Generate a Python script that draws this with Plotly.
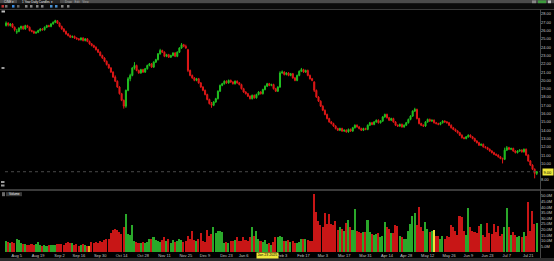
import plotly.graph_objects as go
import pandas as pd

# ---------------- data ----------------
holidays = ["2024-09-02", "2024-11-28", "2024-12-25", "2025-01-01", "2025-01-09",
            "2025-01-20", "2025-02-17", "2025-04-18", "2025-05-26", "2025-06-19", "2025-07-04"]
trading_days = pd.bdate_range("2024-07-29", "2025-07-25", freq="C", holidays=holidays)
dates = [d.strftime("%Y-%m-%d") for d in trading_days]

opens = [
    26.6, 26.9, 26.6, 26.8, 26.4,  25.8, 25.9, 26.3, 26.5, 26.2,  26.6, 26.4, 26.0, 25.9, 25.7,
    25.8, 26.0, 26.2, 26.1, 26.4,  26.6, 26.5, 26.8, 27.0, 27.2,  26.9, 26.5, 26.2, 25.9,
    25.6, 25.4, 25.2, 25.3, 25.1,  25.0, 24.9, 25.1, 24.8, 25.0,  24.7, 24.4, 24.2, 24.0, 23.7,
    23.4, 23.0, 22.7, 22.3, 21.9,  21.5, 21.0, 20.4, 19.9, 19.2,  18.4, 17.6, 16.9, 18.8, 20.2,
    20.6, 21.5, 21.8, 21.2, 20.9,  21.3, 21.0, 21.4, 21.8, 22.0,  21.6, 22.2, 22.5, 23.2, 23.6,
    23.4, 22.9, 23.1, 22.8, 23.0,  23.3, 22.9, 23.4, 23.9, 24.3,  24.1, 23.7, 21.2, 20.6,
    20.3, 20.0, 20.2, 19.7, 19.2,  18.8, 18.3, 17.7, 17.2, 17.0,  17.4, 17.8, 18.7, 19.4, 19.6,
    19.9, 19.7, 20.0, 19.8,  19.6, 19.9, 19.7, 19.5,  19.0, 18.6, 18.4, 18.1,
    17.8, 18.2, 17.9, 18.3, 18.6,  18.4, 18.9, 19.3, 19.6,
    19.4, 19.5, 19.0, 18.7, 19.2,  20.9, 21.0, 20.7, 20.9, 20.6,  20.8, 20.3, 20.0, 20.6, 21.1,
    21.3, 21.0, 21.2, 20.6,
    20.2, 19.8, 18.8, 18.0, 17.5,  16.9, 16.4, 15.9, 15.4, 15.0,  14.8, 14.5, 14.2, 14.0, 14.2,
    13.9, 14.0, 13.8, 14.1, 13.9,  14.3, 14.6, 14.4, 14.2, 14.0,  14.2, 14.1, 14.6, 14.9, 14.7,
    15.0, 15.2, 14.9, 15.1, 15.6,  15.9, 15.5, 15.2, 15.4,
    15.0, 14.6, 14.5, 14.7, 14.4,  14.6, 14.9, 15.3, 15.7, 16.3,  16.5, 15.4, 14.8, 14.6, 14.5,
    15.0, 15.3, 15.1, 15.2, 14.9,  14.8, 14.7, 14.9, 15.1, 15.0,  14.9, 14.6, 14.3, 14.1,
    13.9, 13.7, 13.4, 13.1, 13.0,  13.2, 13.4, 13.2, 13.0, 12.7,  12.5, 12.2, 12.3, 12.0,
    11.9, 11.7, 11.5, 11.3, 11.1,  11.0, 10.8, 10.6, 10.5,
    11.6, 11.9, 11.7, 11.8, 11.5,  11.3, 11.5, 11.6, 11.4, 11.7,  11.0, 10.3, 9.8, 9.3, 8.8,
]
highs = [
    27.1, 27.0, 26.9, 26.9, 26.5,  26.2, 26.4, 26.6, 26.6, 26.7,  26.7, 26.5, 26.1, 26.0, 25.9,
    26.1, 26.3, 26.3, 26.5, 26.7,  26.7, 26.9, 27.1, 27.3, 27.2,  27.0, 26.6, 26.3, 26.0,
    25.7, 25.5, 25.4, 25.4, 25.2,  25.1, 25.2, 25.2, 25.1, 25.1,  24.8, 24.5, 24.3, 24.1, 23.8,
    23.5, 23.1, 22.8, 22.4, 22.0,  21.6, 21.1, 20.6, 20.0, 19.3,  18.5, 17.7, 18.9, 20.4, 20.8,
    21.6, 22.2, 21.9, 21.3, 21.4,  21.4, 21.5, 21.9, 22.1, 22.1,  22.3, 22.6, 23.3, 23.8, 23.7,
    23.5, 23.2, 23.2, 23.1, 23.4,  23.4, 23.5, 24.0, 24.5, 24.4,  24.3, 23.8, 21.3, 20.7,
    20.4, 20.3, 20.3, 19.8, 19.3,  18.9, 18.4, 17.8, 17.4, 17.5,  17.9, 18.8, 19.5, 19.7, 20.0,
    20.0, 20.1, 20.1, 19.9,  20.0, 20.0, 19.8, 19.6,  19.1, 18.7, 18.5, 18.2,
    18.3, 18.3, 18.4, 18.7, 18.7,  19.0, 19.4, 19.7, 19.7,
    19.6, 19.6, 19.1, 19.3, 21.1,  21.2, 21.1, 21.0, 21.0, 20.9,  20.9, 20.4, 20.7, 21.2, 21.5,
    21.4, 21.3, 21.3, 20.7,
    20.3, 19.9, 18.9, 18.1, 17.6,  17.0, 16.5, 16.0, 15.5, 15.1,  14.9, 14.6, 14.3, 14.3, 14.3,
    14.1, 14.1, 14.2, 14.2, 14.4,  14.7, 14.7, 14.5, 14.3, 14.3,  14.3, 14.7, 15.0, 15.0, 15.1,
    15.3, 15.3, 15.2, 15.7, 16.0,  16.0, 15.6, 15.5, 15.5,
    15.1, 14.7, 14.8, 14.8, 14.7,  15.0, 15.4, 15.8, 16.4, 16.7,  16.6, 15.5, 14.9, 14.7, 15.1,
    15.4, 15.4, 15.3, 15.3, 15.0,  14.9, 15.0, 15.2, 15.2, 15.1,  15.0, 14.7, 14.4, 14.2,
    14.0, 13.8, 13.5, 13.2, 13.3,  13.5, 13.5, 13.3, 13.1, 12.8,  12.6, 12.4, 12.4, 12.1,
    12.0, 11.8, 11.6, 11.4, 11.2,  11.1, 10.9, 10.7, 11.9,
    12.1, 12.0, 11.9, 11.9, 11.6,  11.6, 11.7, 11.7, 11.8, 11.8,  11.1, 10.4, 9.9, 9.4, 9.1,
]
lows = [
    26.5, 26.5, 26.5, 26.3, 25.9,  25.6, 25.8, 26.1, 26.1, 26.1,  26.3, 25.9, 25.8, 25.6, 25.6,
    25.7, 25.9, 26.0, 26.0, 26.3,  26.4, 26.4, 26.7, 26.9, 26.8,  26.4, 26.1, 25.8, 25.5,
    25.3, 25.1, 25.1, 25.0, 24.9,  24.8, 24.8, 24.7, 24.7, 24.6,  24.3, 24.1, 23.9, 23.6, 23.3,
    22.9, 22.6, 22.2, 21.8, 21.4,  20.9, 20.3, 19.8, 19.1, 18.3,  17.5, 16.6, 16.7, 18.7, 19.9,
    20.5, 21.3, 21.1, 20.8, 20.8,  20.9, 20.9, 21.3, 21.7, 21.5,  21.5, 22.1, 22.4, 23.1, 23.3,
    22.8, 22.8, 22.7, 22.7, 22.9,  22.8, 22.8, 23.3, 23.8, 24.0,  23.8, 21.0, 20.5, 20.2,
    19.9, 19.9, 19.6, 19.1, 18.7,  18.2, 17.6, 17.1, 16.7, 16.9,  17.3, 17.7, 18.6, 19.3, 19.5,
    19.6, 19.6, 19.7, 19.5,  19.5, 19.6, 19.4, 18.9,  18.5, 18.3, 18.0, 17.7,
    17.7, 17.8, 17.8, 18.2, 18.3,  18.3, 18.8, 19.2, 19.3,
    19.3, 18.9, 18.6, 18.6, 19.1,  20.8, 20.6, 20.6, 20.5, 20.5,  20.2, 19.9, 19.9, 20.5, 21.0,
    20.9, 20.9, 20.5, 20.1,
    19.9, 18.6, 17.9, 17.4, 16.8,  16.3, 15.8, 15.3, 14.9, 14.7,  14.4, 14.1, 13.9, 13.9, 13.8,
    13.8, 13.7, 13.7, 13.8, 13.8,  14.2, 14.3, 14.1, 13.9, 13.9,  14.0, 14.0, 14.5, 14.6, 14.6,
    14.9, 14.8, 14.8, 15.0, 15.5,  15.4, 15.1, 15.1, 14.9,
    14.5, 14.4, 14.4, 14.3, 14.3,  14.5, 14.8, 15.2, 15.6, 16.2,  15.3, 14.7, 14.5, 14.4, 14.4,
    14.9, 15.0, 15.0, 14.8, 14.7,  14.6, 14.6, 14.8, 14.9, 14.8,  14.5, 14.2, 14.0, 13.8,
    13.6, 13.3, 13.0, 12.9, 12.9,  13.1, 13.1, 12.9, 12.6, 12.4,  12.1, 12.1, 11.9, 11.8,
    11.6, 11.4, 11.2, 11.0, 10.9,  10.7, 10.5, 10.0, 10.4,
    11.5, 11.6, 11.6, 11.4, 11.2,  11.2, 11.4, 11.3, 11.3, 10.9,  10.2, 9.7, 9.2, 8.2, 8.6,
]
closes = [
    26.9, 26.7, 26.8, 26.4, 26.1,  25.9, 26.3, 26.5, 26.2, 26.6,  26.4, 26.0, 25.9, 25.7, 25.8,
    26.0, 26.2, 26.1, 26.4, 26.6,  26.5, 26.8, 27.0, 27.2, 26.9,  26.5, 26.2, 25.9, 25.6,
    25.4, 25.2, 25.3, 25.1, 25.0,  24.9, 25.1, 24.8, 25.0, 24.7,  24.4, 24.2, 24.0, 23.7, 23.4,
    23.0, 22.7, 22.3, 21.9, 21.5,  21.0, 20.4, 19.9, 19.2, 18.4,  17.6, 16.9, 18.8, 20.2, 20.6,
    21.5, 21.8, 21.2, 20.9, 21.3,  21.0, 21.4, 21.8, 22.0, 21.6,  22.2, 22.5, 23.2, 23.6, 23.4,
    22.9, 23.1, 22.8, 23.0, 23.3,  22.9, 23.4, 23.9, 24.3, 24.1,  23.9, 21.2, 20.6, 20.3,
    20.0, 20.2, 19.7, 19.2, 18.8,  18.3, 17.7, 17.2, 17.0, 17.4,  17.8, 18.7, 19.4, 19.6, 19.9,
    19.7, 20.0, 19.8, 19.6,  19.9, 19.7, 19.5, 19.0,  18.6, 18.4, 18.1, 17.8,
    18.2, 17.9, 18.3, 18.6, 18.4,  18.9, 19.3, 19.6, 19.4,
    19.5, 19.0, 18.7, 19.2, 20.9,  21.0, 20.7, 20.9, 20.6, 20.8,  20.3, 20.0, 20.6, 21.1, 21.3,
    21.0, 21.2, 20.6, 20.2,
    20.0, 18.8, 18.0, 17.5, 16.9,  16.4, 15.9, 15.4, 15.0, 14.8,  14.5, 14.2, 14.0, 14.2, 13.9,
    14.0, 13.8, 14.1, 13.9, 14.3,  14.6, 14.4, 14.2, 14.0, 14.2,  14.1, 14.6, 14.9, 14.7, 15.0,
    15.2, 14.9, 15.1, 15.6, 15.9,  15.5, 15.2, 15.4, 15.0,
    14.6, 14.5, 14.7, 14.4, 14.6,  14.9, 15.3, 15.7, 16.3, 16.5,  15.4, 14.8, 14.6, 14.5, 15.0,
    15.3, 15.1, 15.2, 14.9, 14.8,  14.7, 14.9, 15.1, 15.0, 14.9,  14.6, 14.3, 14.1, 13.9,
    13.7, 13.4, 13.1, 13.0, 13.2,  13.4, 13.2, 13.0, 12.7, 12.5,  12.2, 12.3, 12.0, 11.9,
    11.7, 11.5, 11.3, 11.1, 11.0,  10.8, 10.6, 10.5, 11.6,
    11.9, 11.7, 11.8, 11.5, 11.3,  11.5, 11.6, 11.4, 11.7, 11.0,  10.3, 9.8, 9.3, 8.8, 9.0,
]
volumes_m = [
    10, 9, 8, 9, 8,  12, 11, 8, 7, 7,  6, 6, 7, 6, 7,
    9, 6, 5, 6, 5,  6, 6, 6, 6, 7,  7, 7, 6, 8,
    9, 8, 8, 6, 7,  5, 6, 7, 6, 5,  5, 9, 8, 9, 8,
    10, 9, 11, 12, 12,  17, 20, 21, 20, 18,  16, 22, 34, 16, 15,
    24, 10, 9, 8, 8,  9, 8, 9, 12, 12,  13, 11, 10, 9, 11,
    13, 10, 12, 8, 11,  9, 10, 12, 11, 9,  10, 14, 12, 19,
    11, 10, 12, 17, 10,  9, 20, 14, 16, 22,  17, 19, 19, 18, 8,
    9, 8, 10, 10,  11, 13, 10, 10,  13, 11, 10, 13,
    22, 14, 19, 12, 10,  9, 11, 7, 8,
    6, 9, 13, 13, 14,  13, 10, 10, 11, 9,  10, 8, 8, 9, 12,
    12, 12, 11, 10,
    10, 52, 36, 28, 24,  22, 35, 25, 34, 25,  24, 28, 20, 22, 21,
    19, 26, 29, 22, 20,  38, 19, 18, 17, 18,  18, 29, 18, 16, 15,
    16, 17, 13, 14, 27,  22, 21, 17, 17,
    24, 23, 14, 13, 12,  12, 19, 25, 32, 35,  24, 40, 22, 19, 27,
    21, 18, 19, 20, 14,  14, 12, 14, 12, 14,  13, 24, 22, 19,
    15, 32, 31, 19, 15,  39, 22, 19, 18, 17,  23, 25, 15, 13,
    26, 17, 16, 25, 18,  23, 14, 16, 22,
    39, 22, 15, 18, 15,  13, 14, 13, 18, 14,  45, 19, 37, 25, 26,
]
highlight_days = {"2024-09-23": "#e8a21c", "2025-05-15": "#efe23a"}

tick_mondays = ["2024-08-05", "2024-08-19", "2024-09-02", "2024-09-16", "2024-09-30",
                "2024-10-14", "2024-10-28", "2024-11-11", "2024-11-25", "2024-12-09",
                "2024-12-23", "2025-01-06", "2025-02-03", "2025-02-17", "2025-03-03",
                "2025-03-17", "2025-03-31", "2025-04-14", "2025-04-28", "2025-05-12",
                "2025-05-26", "2025-06-09", "2025-06-23", "2025-07-07", "2025-07-21"]
tick_labels = ["Aug 5", "Aug 19", "Sep 2", "Sep 16", "Sep 30", "Oct 14", "Oct 28", "Nov 11",
               "Nov 25", "Dec 9", "Dec 23", "Jan 6", "Feb 3", "Feb 17", "Mar 3", "Mar 17",
               "Mar 31", "Apr 14", "Apr 28", "May 12", "May 26", "Jun 9", "Jun 23", "Jul 7", "Jul 21"]
# 9.00 sits under the yellow last-price label, as in the reference
price_ticks = [8] + list(range(10, 29))
volume_ticks = [5, 10, 15, 20, 25, 30, 35, 40, 45, 50]
cursor_date_label = "Jan 23 2025"
cursor_date = "2025-01-23"

n = min(len(dates), len(opens), len(highs), len(lows), len(closes), len(volumes_m))
dates, opens, highs, lows, closes, volumes_m = (dates[:n], opens[:n], highs[:n], lows[:n],
                                                 closes[:n], volumes_m[:n])
tick_vals = [next(d for d in dates if d >= m) for m in tick_mondays]

# ---------------- styling ----------------
W, H = 554, 261
FONT = "Liberation Sans"
GREEN = "#20c020"
RED = "#e01818"
VGREEN = "#2aa82a"
VRED = "#c81616"
LABEL = "#c8c8c8"


def px(x):
    return x / W


def py(y):
    return 1 - y / H


vol_colors = []
for d, o, c in zip(dates, opens, closes):
    if d in highlight_days:
        vol_colors.append(highlight_days[d])
    else:
        vol_colors.append(VGREEN if c >= o else VRED)

fig = go.Figure()
fig.add_trace(go.Candlestick(
    x=dates, open=opens, high=highs, low=lows, close=closes,
    increasing=dict(line=dict(color=GREEN, width=1), fillcolor=GREEN),
    decreasing=dict(line=dict(color=RED, width=1), fillcolor=RED),
    whiskerwidth=0, xaxis="x", yaxis="y", showlegend=False, hoverinfo="skip"))
fig.add_trace(go.Bar(
    x=dates, y=volumes_m, marker=dict(color=vol_colors, line=dict(width=0)),
    width=0.72, xaxis="x2", yaxis="y2", showlegend=False, hoverinfo="skip"))

xr = [-0.5, n + 0.5]
fig.update_layout(
    width=W, height=H, margin=dict(l=0, r=0, t=0, b=0),
    paper_bgcolor="#000000", plot_bgcolor="#000000",
    font=dict(family=FONT, color=LABEL, size=4),
    bargap=0,
    xaxis=dict(domain=[px(5), px(540)], anchor="y", type="category", range=xr,
               showticklabels=False, showgrid=False, zeroline=False, ticks="",
               rangeslider=dict(visible=False), showline=False),
    xaxis2=dict(domain=[px(5), px(540)], anchor="y2", type="category", range=xr,
                matches="x", tickmode="array", tickvals=tick_vals, ticktext=tick_labels,
                tickfont=dict(size=4, color=LABEL, family=FONT), ticks="",
                showgrid=False, zeroline=False, showline=False),
    yaxis=dict(domain=[py(188), py(10)], range=[7.04, 28.48], side="right",
               tickmode="array", tickvals=price_ticks,
               ticktext=[f"{v:.2f}" for v in price_ticks],
               tickfont=dict(size=4, color=LABEL, family=FONT), ticks="",
               showgrid=False, zeroline=False, showline=False),
    yaxis2=dict(domain=[py(252), py(191)], range=[0, 54.5], side="right",
                tickmode="array", tickvals=volume_ticks,
                ticktext=[f"{v:.1f}M" for v in volume_ticks],
                tickfont=dict(size=4, color=LABEL, family=FONT), ticks="",
                showgrid=False, zeroline=False, showline=False),
)

shapes = []


def rect(x0, y0, x1, y1, color):
    shapes.append(dict(type="rect", xref="paper", yref="paper", x0=px(x0), x1=px(x1),
                       y0=py(y1), y1=py(y0), fillcolor=color, line=dict(width=0), layer="below"))


# toolbar
rect(0, 0, 554, 3.6, "#4b4b4b")
rect(17, 0, 60, 3.6, "#262626")
rect(0, 3.6, 554, 9.2, "#0b0b0b")
for x0, col in [(1.5, "#c03030"), (5, "#777777"), (12, "#3a8ee6"), (17, "#666666"),
                (25, "#888888"), (30, "#888888"), (36, "#888888"), (41, "#888888"),
                (50, "#4a90d0"), (55, "#4a90d0"), (61, "#888888"), (67, "#888888")]:
    rect(x0, 5, x0 + 2.5, 7.6, col)
rect(532, 0.4, 536, 3.2, "#888888")
rect(538, 0.4, 546, 3.2, "#3d9b3d")
rect(548, 0.4, 551, 3.2, "#bbbbbb")
shapes.append(dict(type="line", xref="paper", yref="paper", x0=0, x1=1, y0=py(9.5), y1=py(9.5),
                   line=dict(color="#3a3a3a", width=1)))
# right axis line
shapes.append(dict(type="line", xref="paper", yref="paper", x0=px(540.5), x1=px(540.5),
                   y0=py(258), y1=py(9.5), line=dict(color="#454545", width=1)))
# panel separator
rect(0, 189, 554, 191, "#3a3a3a")
# bottom strip
rect(0, 258, 554, 261, "#2b2b2b")
# small left markers
rect(1.5, 10.5, 5, 12.5, "#bdbdbd")
rect(1.5, 67, 4.5, 69, "#9a9a9a")
rect(1, 181, 4.5, 183, "#9a9a9a")
rect(1, 184.5, 4.5, 186.5, "#9a9a9a")
# volume caption box
rect(2, 192.2, 5, 196.2, "#6a6a6a")
rect(6, 192.2, 22, 196.2, "#3a3a3a")
# last price dotted line
shapes.append(dict(type="line", xref="paper", yref="y", x0=px(5), x1=px(540),
                   y0=closes[-1], y1=closes[-1], line=dict(color="#4a4a4a", width=1, dash="dot")))
fig.update_layout(shapes=shapes)

ann = [
    dict(x=px(2), y=py(1.8), text="C/NE ▾", font=dict(size=3, color="#e0e0e0")),
    dict(x=px(20), y=py(1.8), text="1 Year Daily Candles ▾", font=dict(size=3, color="#f0f0f0")),
    dict(x=px(63), y=py(1.8), text="Draw   Edit   View", font=dict(size=3, color="#b0b0b0")),
    dict(x=px(7), y=py(194.2), text="Volume", font=dict(size=3.2, color="#f0f0f0")),
]
for a in ann:
    a.update(xref="paper", yref="paper", xanchor="left", yanchor="middle", showarrow=False)
ann.append(dict(xref="paper", yref="y", x=px(541.5), y=closes[-1], xanchor="left",
                yanchor="middle", showarrow=False, text=f"{closes[-1]:.2f}",
                bgcolor="#efe83a", font=dict(size=4, color="#000000", family=FONT), borderpad=0.5))
ann.append(dict(xref="x2", yref="paper", x=cursor_date, y=py(255.2), xanchor="center",
                yanchor="middle", showarrow=False, text=cursor_date_label,
                bgcolor="#efe83a", font=dict(size=3.6, color="#000000", family=FONT), borderpad=0.4))
fig.update_layout(annotations=ann)

fig.write_html("out.html")
